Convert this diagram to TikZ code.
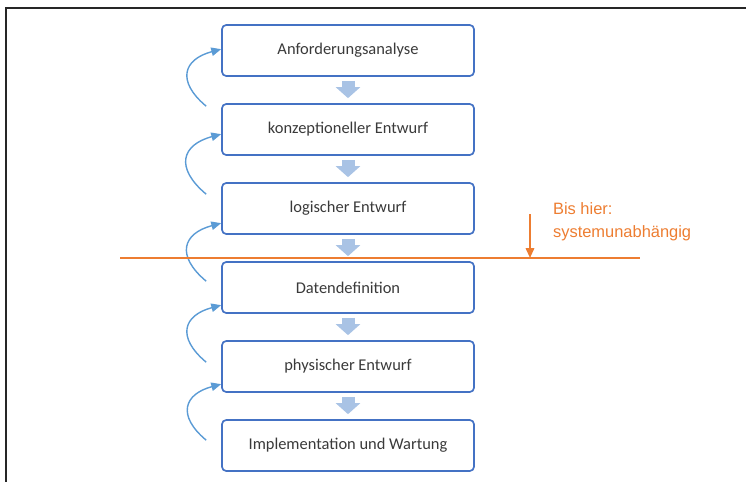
\documentclass[tikz,border=0pt]{standalone}
\usepackage{fontspec}
\setmainfont{Carlito}
\newfontfamily\notefont{Liberation Sans}
\usetikzlibrary{arrows.meta, positioning}
\definecolor{boxblue}{HTML}{4472C4}
\definecolor{loopblue}{HTML}{5B9BD5}
\definecolor{flowblue}{HTML}{A9C3E5}
\definecolor{markorange}{HTML}{ED7D31}
\definecolor{txtgray}{HTML}{3A3A3A}
\tikzstyle{phase} = [
    rectangle, rounded corners=3pt, minimum width=6.3cm, minimum height=1.275cm,
    text centered, draw=boxblue, line width=1.2pt, fill=white,
    text=txtgray, font=\fontsize{11.7}{14}\selectfont
]
\tikzstyle{flow} = [draw=flowblue, line width=0.325cm,
    -{Triangle[width=0.6cm, length=0.275cm]}]
\tikzstyle{loopback} = [draw=loopblue, line width=1pt,
    -{Triangle[width=6pt, length=7pt]}, looseness=1.7]
\tikzstyle{border} = [draw=black!85, line width=1.4pt]

\begin{document}
\begin{tikzpicture}[node distance=1.975cm]
\useasboundingbox (0,0) rectangle (18.65,-12.025);
% Rahmen
\draw [border] (0.15,-12.1) -- (0.15,-0.2) -- (18.8,-0.2);

% Phasen
\node (anf) [phase] at (8.7,-1.2625) {Anforderungsanalyse};
\node (konz) [phase, below of=anf] {konzeptioneller Entwurf};
\node (logi) [phase, below of=konz] {logischer Entwurf};
\node (datdef) [phase, below of=logi] {Datendefinition};
\node (phys) [phase, below of=datdef] {physischer Entwurf};
\node (impl) [phase, below of=phys] {Implementation und Wartung};

% Ablauf
\draw [flow] ([yshift=-0.1cm]anf.south) -- ([yshift=0.125cm]konz.north);
\draw [flow] ([yshift=-0.1cm]konz.south) -- ([yshift=0.125cm]logi.north);
\draw [flow] ([yshift=-0.1cm]logi.south) -- ([yshift=0.125cm]datdef.north);
\draw [flow] ([yshift=-0.1cm]datdef.south) -- ([yshift=0.125cm]phys.north);
\draw [flow] ([yshift=-0.1cm]phys.south) -- ([yshift=0.125cm]impl.north);

% Rueckspruenge
\draw [loopback] ([xshift=-0.375cm, yshift=-0.075cm]konz.north west) to[out=140, in=195] ([yshift=-0.625cm]anf.north west);
\draw [loopback] ([xshift=-0.375cm, yshift=-0.3cm]logi.north west) to[out=140, in=195] ([yshift=-0.775cm]konz.north west);
\draw [loopback] ([xshift=-0.375cm, yshift=-0.5cm]datdef.north west) to[out=140, in=195] ([yshift=-1.025cm]logi.north west);
\draw [loopback] ([xshift=-0.375cm, yshift=-0.55cm]phys.north west) to[out=140, in=195] ([yshift=-1.1cm]datdef.north west);
\draw [loopback] ([xshift=-0.375cm, yshift=-0.525cm]impl.north west) to[out=140, in=195] ([yshift=-1.1cm]phys.north west);

% Grenze
\coordinate (grenzeL) at (3.0,-6.45);
\coordinate (grenzeR) at (16.0,-6.45);
\coordinate (hinweis) at (13.25,-5.35);
\draw [markorange, line width=1.4pt] (grenzeL) -- (grenzeR);
\draw [markorange, line width=1.3pt, -{Triangle[width=6pt, length=7pt]}] (hinweis) -- (hinweis |- grenzeL);
\node (bishier) [anchor=north west, inner sep=0pt, align=left, text=markorange,
    font=\notefont\fontsize{11.7}{16.5}\selectfont] at (13.82,-5.05) {Bis hier:\\systemunabhängig};

\end{tikzpicture}
\end{document}
